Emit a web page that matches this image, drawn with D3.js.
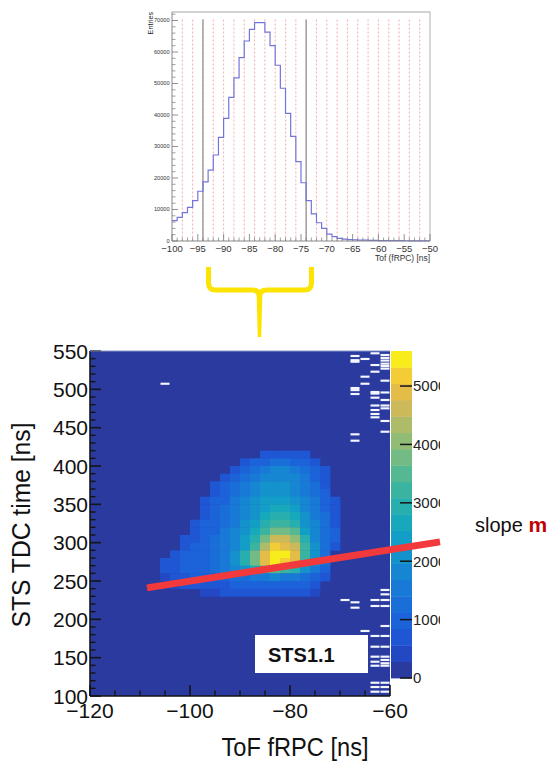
<!DOCTYPE html>
<html><head><meta charset="utf-8">
<script src="https://cdn.jsdelivr.net/npm/d3@7"></script>
<style>
body{margin:0;background:#fff}
svg{display:block}
text{font-family:"Liberation Sans",Arial,Helvetica,sans-serif}
</style>
</head><body>
<svg id="chart" width="551" height="761"></svg>
<script>
// ================= DATA =================
// Top histogram: 1 ns bins from -100 to -50 ns
const histLowEdge = -100;
const histBinWidth = 1;
const histCounts = [6450,7500,9000,10700,12800,15800,18800,22500,27300,32900,
  38900,45600,51800,58200,63500,67200,69300,69300,66300,62000,
  55800,48500,40500,33200,25200,18500,12800,8600,5800,4000,
  2200,1400,850,600,450,350,300,250,200,180,
  150,130,120,100,90,80,70,60,50,50];
const histXTicks = [-100,-95,-90,-85,-80,-75,-70,-65,-60,-55,-50];
const histYTicks = [0,10000,20000,30000,40000,50000,60000,70000];
const histGridLines = [-98,-96,-94,-92,-90,-88,-86,-84,-82,-80,-78,-76,-74,-72,-70,-68,-66,-64,-62,-60,-58,-56,-54,-52];
const histCutLines = [-94,-74];

// 2D histogram (STS TDC time vs ToF fRPC), 2 ns x 10 ns cells, counts in hundreds
const heatX = [-106,-104,-102,-100,-98,-96,-94,-92,-90,-88,-86,-84,-82,-80,-78,-76,-74,-72];
const heatY = [410,400,390,380,370,360,350,340,330,320,310,300,290,280,270,260,250,240,230];
const heatZ = [
  [0,0,0,0,0,0,0,0,0,0,6,7,7,7,6,0,0,0],
  [0,0,0,0,0,0,0,0,6,9,11,12,12,11,9,7,0,0],
  [0,0,0,0,0,0,0,7,10,13,16,17,17,16,13,10,7,0],
  [0,0,0,0,0,0,7,10,12,15,18,19,19,17,15,11,8,0],
  [0,0,0,0,0,7,9,12,14,17,20,21,20,18,15,12,8,0],
  [0,0,0,0,0,8,10,13,16,19,21,22,21,19,16,13,9,0],
  [0,0,0,0,7,9,11,14,17,20,23,24,23,21,17,14,10,7],
  [0,0,0,0,8,9,12,15,18,21,24,26,26,23,19,15,11,8],
  [0,0,0,0,8,10,13,16,19,22,26,29,29,26,20,16,12,8],
  [0,0,0,7,9,11,13,16,20,24,29,33,33,29,22,17,12,8],
  [0,0,0,8,9,11,14,17,21,26,33,39,38,34,25,18,13,9],
  [0,0,7,8,10,12,14,18,23,29,38,46,45,40,28,19,13,9],
  [0,0,8,9,10,12,15,19,25,33,44,52,50,46,31,20,13,8],
  [0,8,9,10,11,13,16,21,28,38,49,56,54,49,33,21,13,0],
  [7,8,9,10,11,13,16,21,28,38,50,55,53,48,32,20,12,0],
  [6,8,9,10,11,12,14,17,21,26,32,34,32,28,20,14,9,0],
  [5,7,8,9,10,10,11,12,13,14,16,17,16,15,12,10,7,0],
  [0,5,6,7,7,8,8,9,9,10,10,11,10,10,9,7,0,0],
  [0,0,0,0,5,5,6,6,7,7,7,7,7,7,6,5,0,0]
];
// sparse white (saturated) cells: x lower edge [ns], y [ns]
const whiteX = [-68,-68,-68,-68,-68,-68,-68,-68,-68,-68,
  -66,-66,-66,-66,
  -64,-64,-64,-64,-64,-64,-64,-64,-64,-64,-64,-64,-64,-64,-64,-64,-64,-64,-64,-64,
  -62,-62,-62,-62,-62,-62,-62,-62,-62,-62,-62,-62,-62,-62,-62,-62,-62,-62,-62,-62,-62,-62,-62,-62,-62,-62,-62,
  -70,-106];
const whiteY = [543.5,538,536,501.7,499,493.9,441.3,433,222.2,215.2,
  539.6,516.5,507.3,184.8,
  547,531.7,523,496.5,494.5,489.1,478.9,473,467.8,463.5,225.2,217.4,178.3,164.3,151.3,144.7,139.5,117.3,111.7,105.6,
  544.8,541,537.5,533.5,530.4,527,511.3,495.9,486.1,478.9,475.2,458.7,444.7,238.3,232.6,225.2,217.4,191.3,178.3,164.3,151.3,147,142.7,139.5,117.3,111.7,105.6,
  225.2,507.3];

const mainXTicks = [-120,-100,-80,-60];
const mainYTicks = [100,150,200,250,300,350,400,450,500,550];
const zMax = 5600;
const zTicks = [0,1000,2000,3000,4000,5000];
const slopeLine = [{x:-108.6,y:241},{x:-50,y:301}];

const palette = ["#2a3a9e","#2348c4","#1e56d4","#1c62d8","#1a6ed8","#187ad6","#1686d2","#1492cc",
  "#129ec6","#18a8bc","#26afae","#3ab4a0","#54b892","#72bb84","#90bc76","#aebb68",
  "#cbb95a","#e4bc48","#f4cc36","#f8ec1c"];

// ================= DRAW =================
const svg = d3.select("#chart");
svg.append("rect").attr("width",551).attr("height",761).attr("fill","#fff");

// ---------- top histogram ----------
const hx = d3.scaleLinear().domain([-100,-50]).range([172,430]);
const hy = d3.scaleLinear().domain([0,72700]).range([241,12]);
const topG = svg.append("g");

topG.selectAll("line.grid").data(histGridLines).join("line")
  .attr("x1",d=>hx(d)).attr("x2",d=>hx(d)).attr("y1",hy(70300)).attr("y2",hy(0))
  .attr("stroke","#f4a4a4").attr("stroke-width",0.9).attr("stroke-dasharray","2,2");
topG.selectAll("line.cut").data(histCutLines).join("line")
  .attr("x1",d=>hx(d)).attr("x2",d=>hx(d)).attr("y1",hy(70300)).attr("y2",hy(0))
  .attr("stroke","#9a9a9a").attr("stroke-width",1.4);

const histPts = histCounts.map((c,i)=>({x:histLowEdge+i*histBinWidth,y:c}));
histPts.push({x:histLowEdge+histCounts.length*histBinWidth,y:histCounts[histCounts.length-1]});
topG.append("path").datum(histPts)
  .attr("d",d3.line().x(d=>hx(d.x)).y(d=>hy(d.y)).curve(d3.curveStepAfter))
  .attr("fill","none").attr("stroke","#7474dc").attr("stroke-width",1.2);

// frame
topG.append("path").attr("d",`M${hx(-100)},${hy(72700)}H${hx(-50)}V${hy(0)}`)
  .attr("fill","none").attr("stroke","#c4c4c4").attr("stroke-width",1.3);
topG.append("line").attr("x1",hx(-100)).attr("x2",hx(-50)).attr("y1",hy(0)).attr("y2",hy(0))
  .attr("stroke","#888").attr("stroke-width",1);
topG.append("line").attr("x1",hx(-100)).attr("x2",hx(-100)).attr("y1",hy(0)).attr("y2",hy(72700))
  .attr("stroke","#888").attr("stroke-width",1);
// y ticks
topG.selectAll("line.yt").data(histYTicks).join("line")
  .attr("x1",hx(-100)).attr("x2",hx(-100)+6).attr("y1",d=>hy(d)).attr("y2",d=>hy(d))
  .attr("stroke","#777").attr("stroke-width",0.8);
topG.selectAll("line.ytm").data(d3.range(0,72001,2000).filter(v=>v%10000)).join("line")
  .attr("x1",hx(-100)).attr("x2",hx(-100)+3.5).attr("y1",d=>hy(d)).attr("y2",d=>hy(d))
  .attr("stroke","#777").attr("stroke-width",0.7);
topG.selectAll("text.yl").data(histYTicks).join("text")
  .attr("x",hx(-100)-2.5).attr("y",d=>hy(d)).attr("dy","0.35em").attr("text-anchor","end")
  .attr("font-size",5.6).attr("fill","#333").text(d=>d);
// x ticks
topG.selectAll("line.xt").data(histXTicks).join("line")
  .attr("x1",d=>hx(d)).attr("x2",d=>hx(d)).attr("y1",hy(0)).attr("y2",hy(0)-7)
  .attr("stroke","#777").attr("stroke-width",0.8);
topG.selectAll("line.xtm").data(d3.range(-99,-50,1).filter(v=>v%5)).join("line")
  .attr("x1",d=>hx(d)).attr("x2",d=>hx(d)).attr("y1",hy(0)).attr("y2",hy(0)-3.5)
  .attr("stroke","#777").attr("stroke-width",0.7);
topG.selectAll("text.xl").data(histXTicks).join("text")
  .attr("x",d=>hx(d)).attr("y",251.5).attr("text-anchor","middle")
  .attr("font-size",9.5).attr("fill","#333").text(d=>String(d).replace("-","\u2212"));
topG.append("text").attr("x",430).attr("y",260.5).attr("text-anchor","end")
  .attr("font-size",8.4).attr("fill","#333").text("Tof (fRPC) [ns]");
topG.append("text").attr("transform","translate(152.5,12) rotate(-90)").attr("text-anchor","end")
  .attr("font-size",7.2).attr("fill","#222").text("Entries");

// ---------- yellow brace ----------
svg.append("path")
  .attr("d","M208.5,267 V283 Q208.5,290 215.5,290 H252 Q259,290 259.5,296 Q260,290 267,290 H304.5 Q311.5,290 311.5,283 V267")
  .attr("fill","none").attr("stroke","#fde400").attr("stroke-width",5).attr("stroke-linejoin","round");
svg.append("path").attr("d","M256.6,293 L262.4,293 L261.2,337 L257.8,337 Z").attr("fill","#fde400");

// ---------- main 2D histogram ----------
const mx = d3.scaleLinear().domain([-120,-60]).range([90,390]);
const my = d3.scaleLinear().domain([100,550]).range([696,351]);
const bandOf = v => Math.max(0,Math.min(palette.length-1,Math.floor(v/(zMax/palette.length))));

const mainG = svg.append("g");
mainG.append("rect").attr("x",mx(-120)).attr("y",my(550)).attr("width",mx(-60)-mx(-120))
  .attr("height",my(100)-my(550)).attr("fill",palette[0]);

const cells = [];
heatZ.forEach((row,ri)=>row.forEach((v,ci)=>{ if(bandOf(v*100)>0) cells.push({x:heatX[ci],y:heatY[ri],v:v*100}); }));
mainG.selectAll("rect.cell").data(cells).join("rect")
  .attr("x",d=>mx(d.x)).attr("y",d=>my(d.y+10))
  .attr("width",d=>mx(d.x+2)-mx(d.x)+0.4).attr("height",d=>my(d.y)-my(d.y+10)+0.4)
  .attr("fill",d=>palette[bandOf(d.v)]);

mainG.selectAll("rect.white").data(whiteX.map((x,i)=>({x,y:whiteY[i]}))).join("rect")
  .attr("x",d=>mx(d.x)+0.5).attr("y",d=>my(d.y+1.4)).attr("width",d=>mx(d.x+2)-mx(d.x)-1)
  .attr("height",d=>my(d.y-1.4)-my(d.y+1.4)).attr("fill","#f4f6ff");

// axes ticks (inside)
mainG.selectAll("line.my").data(mainYTicks).join("line")
  .attr("x1",mx(-120)).attr("x2",mx(-120)+11).attr("y1",d=>my(d)).attr("y2",d=>my(d))
  .attr("stroke","#151515").attr("stroke-width",1.6);
mainG.selectAll("line.mym").data(d3.range(110,550,10).filter(v=>v%50)).join("line")
  .attr("x1",mx(-120)).attr("x2",mx(-120)+5.5).attr("y1",d=>my(d)).attr("y2",d=>my(d))
  .attr("stroke","#151515").attr("stroke-width",1.4);
mainG.selectAll("line.mx").data(mainXTicks).join("line")
  .attr("x1",d=>mx(d)).attr("x2",d=>mx(d)).attr("y1",my(100)).attr("y2",my(100)-11)
  .attr("stroke","#151515").attr("stroke-width",1.6);
mainG.selectAll("line.mxm").data(d3.range(-115,-60,5).filter(v=>v%20)).join("line")
  .attr("x1",d=>mx(d)).attr("x2",d=>mx(d)).attr("y1",my(100)).attr("y2",my(100)-5.5)
  .attr("stroke","#151515").attr("stroke-width",1.4);
mainG.append("line").attr("x1",mx(-120)).attr("x2",mx(-120)).attr("y1",my(550)).attr("y2",my(100))
  .attr("stroke","#151515").attr("stroke-width",1.6);
mainG.append("line").attr("x1",mx(-120)).attr("x2",mx(-60)).attr("y1",my(100)).attr("y2",my(100))
  .attr("stroke","#151515").attr("stroke-width",1.6);
mainG.append("line").attr("x1",mx(-120)).attr("x2",mx(-60)).attr("y1",my(550)).attr("y2",my(550))
  .attr("stroke","#8a93c8").attr("stroke-width",1);

mainG.selectAll("text.myl").data(mainYTicks).join("text")
  .attr("x",88).attr("y",d=>my(d)).attr("dy","0.36em").attr("text-anchor","end")
  .attr("font-size",21).attr("fill","#111").text(d=>d);
mainG.selectAll("text.mxl").data(mainXTicks).join("text")
  .attr("x",d=>mx(d)).attr("y",718).attr("text-anchor","middle")
  .attr("font-size",21).attr("fill","#111").text(d=>String(d).replace("-","\u2212"));

mainG.append("text").attr("x",295).attr("y",756).attr("text-anchor","middle")
  .attr("font-size",25).attr("fill","#111").attr("textLength",147).attr("lengthAdjust","spacingAndGlyphs")
  .text("ToF  fRPC [ns]");
mainG.append("text").attr("transform","translate(30,525) rotate(-90)").attr("text-anchor","middle")
  .attr("font-size",25).attr("fill","#111").attr("textLength",205).attr("lengthAdjust","spacingAndGlyphs")
  .text("STS TDC time [ns]");

// ---------- colour bar ----------
const cz = d3.scaleLinear().domain([0,zMax]).range([678,351]);
const step = zMax/palette.length;
const cb = svg.append("g");
cb.selectAll("rect").data(palette).join("rect")
  .attr("x",391).attr("width",21).attr("y",(d,i)=>cz((i+1)*step)).attr("height",(d,i)=>cz(i*step)-cz((i+1)*step)+0.4)
  .attr("fill",d=>d);
cb.selectAll("line").data(zTicks).join("line")
  .attr("x1",400).attr("x2",412).attr("y1",d=>cz(d)).attr("y2",d=>cz(d))
  .attr("stroke","#151515").attr("stroke-width",1.5);
svg.append("clipPath").attr("id","cbclip").append("rect").attr("x",380).attr("y",330).attr("width",60).attr("height",380);
cb.append("g").attr("clip-path","url(#cbclip)").selectAll("text").data(zTicks).join("text")
  .attr("x",413).attr("y",d=>cz(d)).attr("dy","0.36em").attr("font-size",15).attr("fill","#222").text(d=>d);

// ---------- slope line ----------
svg.append("line").attr("x1",mx(slopeLine[0].x)).attr("y1",my(slopeLine[0].y))
  .attr("x2",mx(slopeLine[1].x)).attr("y2",my(slopeLine[1].y))
  .attr("stroke","#f23a3c").attr("stroke-width",7);

// ---------- STS1.1 label ----------
svg.append("rect").attr("x",255).attr("y",635).attr("width",113).attr("height",38).attr("fill","#fff");
svg.append("text").attr("x",268).attr("y",661.5).attr("font-size",20).attr("font-weight","bold")
  .attr("fill","#111").text("STS1.1");

// ---------- slope m ----------
const sl = svg.append("text").attr("x",475).attr("y",532).attr("font-size",20).attr("fill","#111");
sl.append("tspan").text("slope ");
sl.append("tspan").attr("font-weight","bold").attr("fill","#c00000").attr("font-size",21).text("m");
</script>
</body></html>
